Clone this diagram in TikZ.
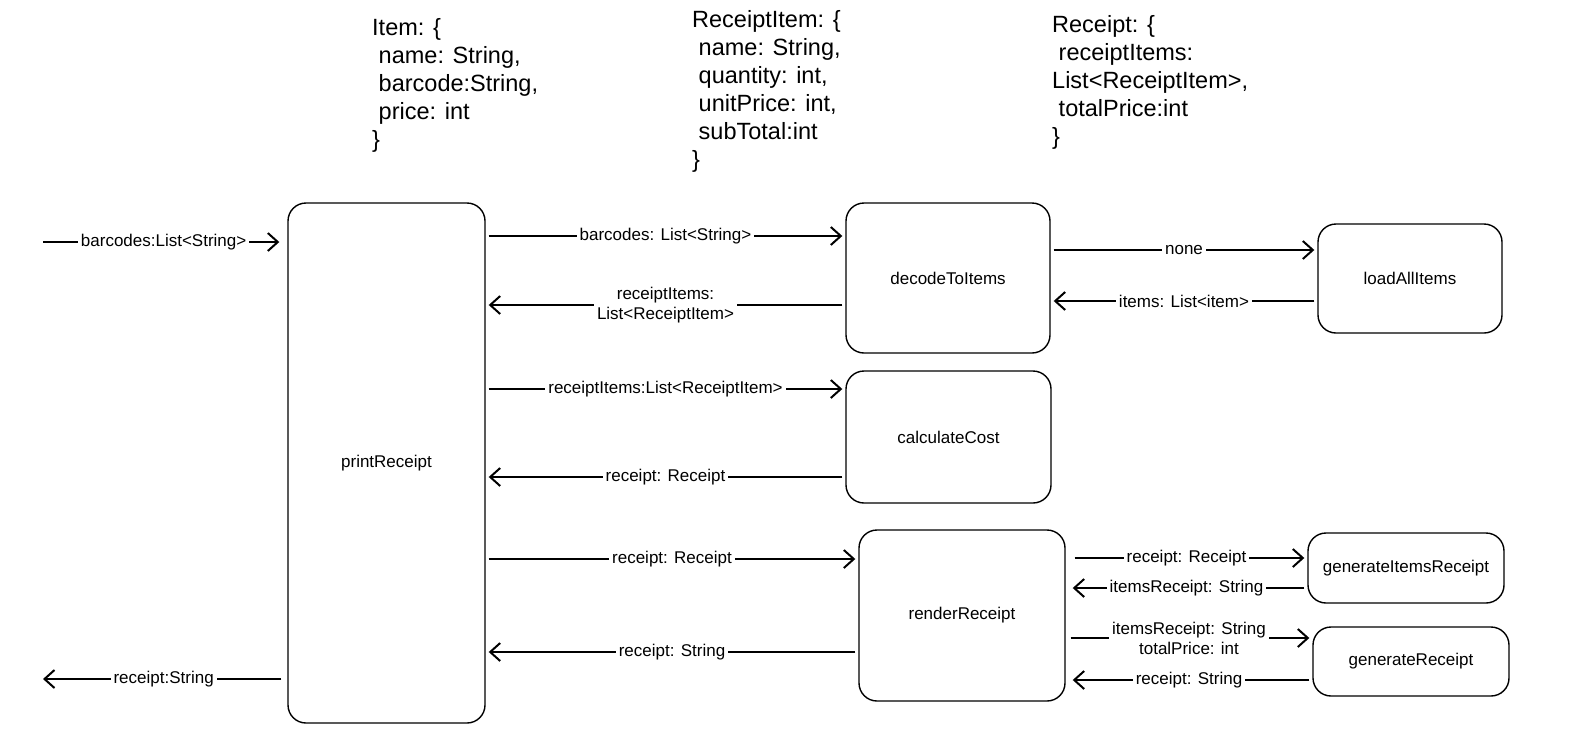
\documentclass[tikz,border=0pt]{standalone}
\usepackage{fontspec}
\setmainfont{Liberation Sans}
\usetikzlibrary{arrows.meta,positioning}

\begin{document}
\begin{tikzpicture}[x=1pt,y=-1pt,
fun/.style={draw,line width=1.4pt,rounded corners=18pt,font=\fontsize{17}{20}\selectfont},
lbl/.style={fill=white,inner sep=3pt,font=\fontsize{17}{20}\selectfont,align=center},
msg/.style={line width=2pt,shorten <=3pt,shorten >=3pt,-{Straight Barb[length=10pt,width=18pt,line width=2pt]}},
code/.style={anchor=north west,align=left,inner sep=0pt,font=\fontsize{23.5}{28}\selectfont}]

\useasboundingbox (0,0) rectangle (1573,731);

% data types
\node[code] (item) at (372,18) {Item: \{\\\ name: String,\\\ barcode:String,\\\ price: int\\\}};
\node[code] (ritem) at (692,10) {ReceiptItem: \{\\\ name: String,\\\ quantity: int,\\\ unitPrice: int,\\\ subTotal:int\\\}};
\node[code] (rec) at (1052,15) {Receipt: \{\\\ receiptItems:\\List<ReceiptItem>,\\\ totalPrice:int\\\}};

% functions
\node[fun,minimum width=197pt,minimum height=520pt] (print) at (386.5,463) {printReceipt};
\node[fun,minimum width=204pt,minimum height=150pt] (decode) at (948,278) {decodeToItems};
\node[fun,minimum width=184pt,minimum height=109pt] (load) at (1410,278.5) {loadAllItems};
\node[fun,minimum width=205pt,minimum height=132pt] (calc) at (948.5,437) {calculateCost};
\node[fun,minimum width=206pt,minimum height=171pt] (render) at (962,615.5) {renderReceipt};
\node[fun,minimum width=196pt,minimum height=70pt] (genitems) at (1406,568) {generateItemsReceipt};
\node[fun,minimum width=196pt,minimum height=69pt] (genrec) at (1411,661.5) {generateReceipt};
\coordinate (in) at (40,242);
\coordinate (out) at (40,679);

% calls
\draw[msg,shorten >=8pt] (in) -- node[lbl]{barcodes:List<String>} (print.west |- in);
\draw[msg] (print.east |- 0,236) -- node[lbl]{barcodes: List<String>} (decode.west |- 0,236);
\draw[msg] (decode.west |- 0,305) -- node[lbl]{receiptItems:\\List<ReceiptItem>} (print.east |- 0,305);
\draw[msg] (decode.east |- 0,250) -- node[lbl]{none} (load.west |- 0,250);
\draw[msg] (load.west |- 0,301) -- node[lbl]{items: List<item>} (decode.east |- 0,301);
\draw[msg] (print.east |- 0,389) -- node[lbl]{receiptItems:List<ReceiptItem>} (calc.west |- 0,389);
\draw[msg] (calc.west |- 0,477) -- node[lbl]{receipt: Receipt} (print.east |- 0,477);
\draw[msg] (print.east |- 0,559) -- node[lbl]{receipt: Receipt} (render.west |- 0,559);
\draw[msg] (render.west |- 0,652) -- node[lbl]{receipt: String} (print.east |- 0,652);
\draw[msg,shorten <=9pt] (render.east |- 0,558) -- node[lbl]{receipt: Receipt} (genitems.west |- 0,558);
\draw[msg,shorten >=7pt] (genitems.west |- 0,588) -- node[lbl]{itemsReceipt: String} (render.east |- 0,588);
\draw[msg,shorten <=5pt] (render.east |- 0,638) -- node[lbl]{itemsReceipt: String\\totalPrice: int} (genrec.west |- 0,638);
\draw[msg,shorten >=7pt] (genrec.west |- 0,680) -- node[lbl]{receipt: String} (render.east |- 0,680);
\draw[msg,shorten <=6pt] (print.west |- out) -- node[lbl]{receipt:String} (out);
\end{tikzpicture}
\end{document}
